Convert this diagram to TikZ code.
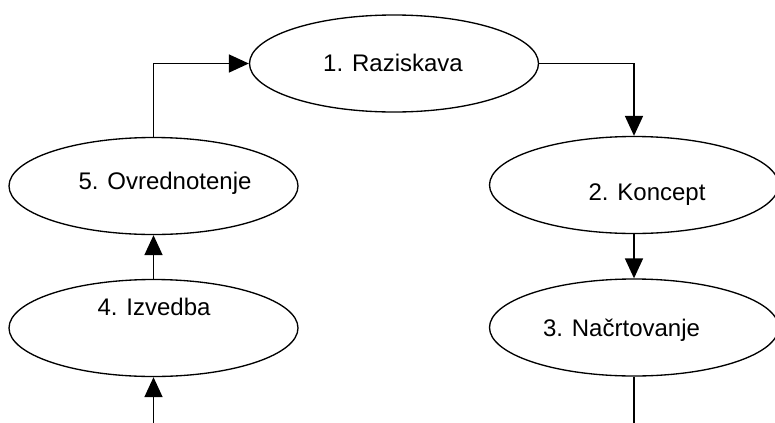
\documentclass[tikz,border=0pt]{standalone}
\usepackage{fontspec}
\setmainfont{Liberation Sans}
\usetikzlibrary{shapes.geometric,arrows.meta}
\begin{document}
\begin{tikzpicture}[x=0.75pt, y=-0.75pt, >={Triangle[length=15pt, width=13.5pt]},
		phase/.style={ellipse, draw, line width=1pt, minimum width=216.75pt, minimum height=72.75pt, inner sep=0pt},
		phasetext/.style={font=\fontsize{18}{21}\selectfont, inner sep=0pt},
		flow/.style={line width=1.3pt}]
	\useasboundingbox (0,0) rectangle (775,422);
	\clip (0,0) rectangle (775,422);
	% the five phases of the cycle
	\node[phase] (n1) at (394,63.5) {};
	\node[phase] (n2) at (634,185) {};
	\node[phase] (n3) at (634,327.5) {};
	\node[phase] (n4) at (153.5,328) {};
	\node[phase] (n5) at (153.5,186) {};
	% labels sit a little off the centres, as in the drawing
	\node[phasetext] (t1) at (393,63) {1. Raziskava};
	\node[phasetext] (t2) at (647,195) {2. Koncept};
	\node[phasetext] (t3) at (621.5,330) {3. Načrtovanje};
	\node[phasetext] (t4) at (154,307) {4. Izvedba};
	\node[phasetext] (t5) at (165,183) {5. Ovrednotenje};
	% loose ends running off the bottom edge
	\coordinate (b3) at (634,430);
	\coordinate (b4) at (153.5,430);
	\draw[flow, ->] (n5.north) |- (n1.west);
	\draw[flow, ->] (n1.east) -| (n2.north);
	\draw[flow, ->] (n2) -- (n3);
	\draw[flow] (n3) -- (b3);
	\draw[flow, ->] (b4) -- (n4);
	\draw[flow, ->] (n4) -- (n5);
\end{tikzpicture}
\end{document}
